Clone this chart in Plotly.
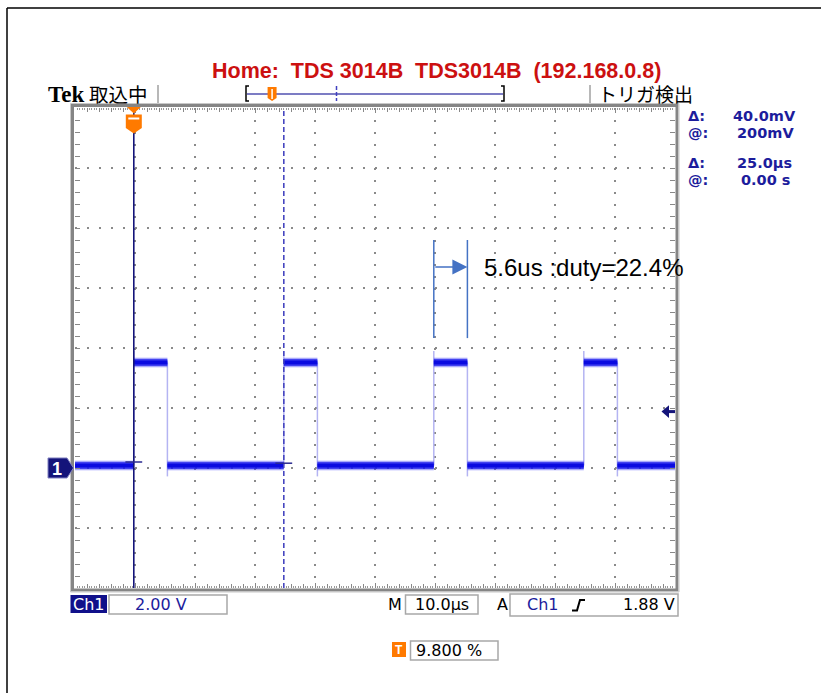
import plotly.graph_objects as go

# ---- acquisition data (Ch1, 2.00 V/div, 10.0 us/div) ----
rise_us = [0.0, 25.0, 50.0, 75.0]          # rising-edge times
fall_us = [5.6, 30.6, 55.6, 80.6]          # falling-edge times
low_v = 0.08                               # logic-low level
high_v = 3.52                              # logic-high level
rise_peak_v = 3.9                          # overshoot at rising edges
fall_dip_v = -0.28                         # undershoot at falling edges

volts_per_div = 2.0
time_per_div = 10.0
trig_pos_pct = 9.8                         # trigger position in record (%)
trig_level_v = 1.88

cursor_t_us = [0.0, 25.0]                  # vertical (time) cursors
cursor_v = [0.20, 0.16]                    # horizontal (voltage) cursors

period_us = rise_us[1] - rise_us[0]
pulse_us = fall_us[2] - rise_us[2]

# ---- screen geometry ----
W, H = 821, 693
SX0, SX1, SY0, SY1 = 75, 675, 108, 588     # graticule in pixels
t_left = -trig_pos_pct / 100 * 10 * time_per_div
t_right = t_left + 10 * time_per_div
v_bot, v_top = -2 * volts_per_div, 6 * volts_per_div


def px(x):
    return x / W


def py(y):
    return 1 - y / H


def pth(pts, close=True):
    s = "M" + " L".join(f"{px(x):.5f},{py(y):.5f}" for x, y in pts)
    return s + (" Z" if close else "")


NAVY = "#14147a"
RO_BLUE = "#1c1c9c"
ORANGE = "#ff7a00"
GRID = "#8a8a8a"
MONO = "DejaVu Sans"

fig = go.Figure()

# ---- waveform: level plateaus ----
edges = sorted([(t, "r") for t in rise_us] + [(t, "f") for t in fall_us])
lx, ly = [], []
cur_t, cur_v = t_left, low_v
for t, kind in edges:
    lx += [cur_t, t, None]
    ly += [cur_v, cur_v, None]
    cur_t = t
    cur_v = high_v if kind == "r" else low_v
lx += [cur_t, t_right]
ly += [cur_v, cur_v]

# ---- waveform: edges ----
ex, ey = [], []
for t in rise_us:
    ex += [t, t, None]
    ey += [low_v, rise_peak_v, None]
for t in fall_us:
    ex += [t, t, None]
    ey += [high_v, fall_dip_v, None]

fig.add_trace(go.Scatter(x=ex, y=ey, mode="lines", hoverinfo="skip",
                         line=dict(color="#b4b4f2", width=1.5)))
fig.add_trace(go.Scatter(x=lx, y=ly, mode="lines", hoverinfo="skip",
                         line=dict(color="rgba(90,90,255,0.30)", width=10)))
fig.add_trace(go.Scatter(x=lx, y=ly, mode="lines", hoverinfo="skip",
                         line=dict(color="rgba(20,20,235,0.75)", width=7.5)))
fig.add_trace(go.Scatter(x=lx, y=ly, mode="lines", hoverinfo="skip",
                         line=dict(color="#0a0ae0", width=4)))
# empty trace that carries the 1/5-division ruler axis
fig.add_trace(go.Scatter(x=[], y=[], xaxis="x2", yaxis="y", hoverinfo="skip"))

shapes = []
ann = []

# ---- graticule frame ----
shapes.append(dict(type="rect", xref="paper", yref="paper",
                   x0=px(72.5), x1=px(677), y0=py(105.5), y1=py(590),
                   line=dict(color="#858585", width=3), layer="above"))
shapes.append(dict(type="rect", xref="paper", yref="paper",
                   x0=px(70.5), x1=px(679), y0=py(103.5), y1=py(592),
                   line=dict(color="#c8c8c8", width=1), layer="above"))

# ---- cursors ----
shapes.append(dict(type="line", xref="x", yref="paper",
                   x0=cursor_t_us[0], x1=cursor_t_us[0], y0=py(SY1), y1=py(SY0),
                   line=dict(color=NAVY, width=1.6)))
shapes.append(dict(type="line", xref="x", yref="paper",
                   x0=cursor_t_us[1], x1=cursor_t_us[1], y0=py(SY1), y1=py(SY0),
                   line=dict(color="#4646c0", width=1.6, dash="5px,3px")))
for t, v in zip(cursor_t_us, cursor_v):
    shapes.append(dict(type="line", xref="x", yref="y",
                       x0=t - 1.4, x1=t + 1.4, y0=v, y1=v,
                       line=dict(color="#2a2a90", width=1.5)))

# ---- trigger marker on top of the graticule ----
tx = SX0 + (SX1 - SX0) * trig_pos_pct / 100
shapes.append(dict(type="path", xref="paper", yref="paper", line=dict(width=0),
                   fillcolor=ORANGE,
                   path=pth([(tx - 7, 107), (tx + 7, 107), (tx, 113.5)])))
shapes.append(dict(type="path", xref="paper", yref="paper", line=dict(width=0),
                   fillcolor=ORANGE,
                   path=pth([(tx - 8, 114.5), (tx + 8, 114.5), (tx + 8, 128),
                             (tx, 133.5), (tx - 8, 128)])))
shapes.append(dict(type="line", xref="paper", yref="paper",
                   x0=px(tx - 5.5), x1=px(tx + 5.5), y0=py(118.5), y1=py(118.5),
                   line=dict(color="white", width=2)))

# ---- ground marker "1" ----
gy = SY1 - (0 - v_bot) / (v_top - v_bot) * (SY1 - SY0)
shapes.append(dict(type="path", xref="paper", yref="paper",
                   line=dict(color="#8080c0", width=1), fillcolor=NAVY,
                   path=pth([(48, gy - 10), (67, gy - 10), (73.5, gy),
                             (67, gy + 10), (48, gy + 10)])))
ann.append(dict(x=px(57.5), y=py(gy + 0.5), text="<b>1</b>",
                font=dict(family="Liberation Sans", size=18, color="white")))

# ---- trigger level arrow ----
shapes.append(dict(type="path", xref="paper", yref="y", line=dict(width=0), fillcolor=NAVY,
                   path=f"M{px(661.5):.5f},{trig_level_v} L{px(669):.5f},{trig_level_v + 0.21} "
                        f"L{px(669):.5f},{trig_level_v - 0.21} Z"))
shapes.append(dict(type="line", xref="paper", yref="y", x0=px(668), x1=px(675),
                   y0=trig_level_v, y1=trig_level_v, line=dict(color=NAVY, width=3)))

# ---- pulse-width annotation ----
ann_col = "#4472c4"
for t in (rise_us[2], fall_us[2]):
    shapes.append(dict(type="line", xref="x", yref="y", x0=t, x1=t, y0=4.33, y1=7.6,
                       line=dict(color=ann_col, width=1.5)))
ann.append(dict(x=fall_us[2], y=6.7, xref="x", yref="y", ax=rise_us[2], ay=6.7,
                axref="x", ayref="y", showarrow=True, text="", arrowhead=2,
                arrowsize=2, arrowwidth=1.5, arrowcolor=ann_col))
ann.append(dict(x=58.0, y=6.7, xref="x", yref="y", xanchor="left", yanchor="middle",
                text=f"{pulse_us:.1f}us :duty={pulse_us / period_us * 100:.1f}%",
                font=dict(family="Liberation Sans", size=24, color="black")))

# ---- outer border ----
shapes.append(dict(type="line", xref="paper", yref="paper", x0=px(7), x1=px(830),
                   y0=py(8), y1=py(8), line=dict(color="black", width=1.5)))
shapes.append(dict(type="line", xref="paper", yref="paper", x0=px(7), x1=px(7),
                   y0=py(8), y1=py(700), line=dict(color="black", width=1.5)))

# ---- header ----
nb = "\u00a0"
ann.append(dict(x=px(436), y=py(71),
                text=f"<b>Home:{nb*2}TDS 3014B{nb*2}TDS3014B{nb*2}(192.168.0.8)</b>",
                font=dict(family="Liberation Sans", size=21.5, color="#cc1010")))
ann.append(dict(x=px(46), y=py(94), xanchor="left", text="<b>Tek</b>",
                font=dict(family="Liberation Serif", size=23, color="black")))
ann.append(dict(x=px(87), y=py(93), xanchor="left", text="取込中",
                font=dict(family="Noto Sans CJK JP", size=19.5, color="black")))
ann.append(dict(x=px(596), y=py(93), xanchor="left", text="トリガ検出",
                font=dict(family="Noto Sans CJK JP", size=19, color="black")))
for xs in (158, 590):
    shapes.append(dict(type="line", xref="paper", yref="paper", x0=px(xs), x1=px(xs),
                       y0=py(85), y1=py(103), line=dict(color="#a0a0a0", width=1.5)))

# record-view bar
shapes.append(dict(type="line", xref="paper", yref="paper", x0=px(247), x1=px(503),
                   y0=py(94), y1=py(94), line=dict(color="#5050b0", width=1.5)))
shapes.append(dict(type="path", xref="paper", yref="paper", line=dict(color="black", width=1.5),
                   path=pth([(249, 86), (246, 86), (246, 101), (249, 101)], close=False)))
shapes.append(dict(type="path", xref="paper", yref="paper", line=dict(color="black", width=1.5),
                   path=pth([(501, 86), (504, 86), (504, 101), (501, 101)], close=False)))
shapes.append(dict(type="line", xref="paper", yref="paper", x0=px(336.5), x1=px(336.5),
                   y0=py(86), y1=py(101), line=dict(color="#4040c0", width=1.5, dash="4px,2px")))
rec_x = 247 + (503 - 247) * trig_pos_pct / 100
shapes.append(dict(type="path", xref="paper", yref="paper", line=dict(width=0), fillcolor=ORANGE,
                   path=pth([(rec_x - 4.5, 87), (rec_x + 4.5, 87), (rec_x + 4.5, 98),
                             (rec_x, 101), (rec_x - 4.5, 98)])))
shapes.append(dict(type="line", xref="paper", yref="paper", x0=px(rec_x), x1=px(rec_x),
                   y0=py(89), y1=py(99), line=dict(color="white", width=1.5)))

# ---- cursor readouts ----
dv_mv = (cursor_v[0] - cursor_v[1]) * 1000
dt_us = cursor_t_us[1] - cursor_t_us[0]
readouts = [
    (116, "Δ:", f"{dv_mv:.1f}mV", 731),
    (133.5, "@:", f"{cursor_v[0] * 1000:.0f}mV", 735),
    (162.5, "Δ:", f"{dt_us:.1f}µs", 735),
    (180, "@:", f"{cursor_t_us[0]:.2f} s", 739),
]
for y, lab, val, xv in readouts:
    ann.append(dict(x=px(686), y=py(y), xanchor="left", text=f"<b>{lab}</b>",
                    font=dict(family=MONO, size=14.5, color=RO_BLUE)))
    ann.append(dict(x=px(xv), y=py(y), xanchor="left", text=f"<b>{val}</b>",
                    font=dict(family=MONO, size=14.5, color=RO_BLUE)))

# ---- bottom status line ----
shapes.append(dict(type="rect", xref="paper", yref="paper", x0=px(70.5), x1=px(107),
                   y0=py(595), y1=py(613), line=dict(width=0), fillcolor="#10108a"))
ann.append(dict(x=px(88.5), y=py(604), text="Ch1",
                font=dict(family=MONO, size=16, color="white")))
for x0, x1, y0, y1 in [(109, 227, 595, 614), (405.5, 478, 595, 614),
                       (510, 678, 594, 616), (410.5, 498, 641, 660)]:
    shapes.append(dict(type="rect", xref="paper", yref="paper", x0=px(x0), x1=px(x1),
                       y0=py(y0), y1=py(y1), line=dict(color="#a8a8a8", width=1.5)))
ann.append(dict(x=px(161), y=py(604.5), text=f"{volts_per_div:.2f} V",
                font=dict(family=MONO, size=16, color=RO_BLUE)))
ann.append(dict(x=px(395), y=py(604.5), text="M",
                font=dict(family=MONO, size=16, color="black")))
ann.append(dict(x=px(441.5), y=py(604.5), text=f"{time_per_div:.1f}µs",
                font=dict(family=MONO, size=16, color="black")))
ann.append(dict(x=px(502.5), y=py(604.5), text="A",
                font=dict(family=MONO, size=16, color="black")))
ann.append(dict(x=px(543), y=py(604.5), text="Ch1",
                font=dict(family=MONO, size=16, color=RO_BLUE)))
shapes.append(dict(type="path", xref="paper", yref="paper", line=dict(color="black", width=2),
                   path=pth([(572, 610.5), (577, 610.5), (580, 600), (585, 600)], close=False)))
ann.append(dict(x=px(677), y=py(604.5), xanchor="right", text=f"{trig_level_v:.2f} V",
                font=dict(family=MONO, size=16, color="black")))
shapes.append(dict(type="rect", xref="paper", yref="paper", x0=px(392), x1=px(406),
                   y0=py(642), y1=py(657), line=dict(width=0), fillcolor=ORANGE))
ann.append(dict(x=px(399), y=py(649.5), text="<b>T</b>",
                font=dict(family="Liberation Sans", size=12, color="white")))
ann.append(dict(x=px(414), y=py(650.5), xanchor="left", text=f"{trig_pos_pct:.3f} %",
                font=dict(family=MONO, size=16, color="black")))

for a in ann:
    a.setdefault("xref", "paper")
    a.setdefault("yref", "paper")
    a.setdefault("showarrow", False)
    a.setdefault("xanchor", "center")
    a.setdefault("yanchor", "middle")

axis_common = dict(showticklabels=False, zeroline=False, showline=False,
                   showgrid=True, gridcolor=GRID, gridwidth=2, griddash="2px,10px",
                   ticks="inside", ticklen=5, tickcolor="#888", tickwidth=1,
                   mirror="allticks", fixedrange=True)

fig.update_layout(
    width=W, height=H,
    margin=dict(l=0, r=0, t=0, b=0),
    paper_bgcolor="white", plot_bgcolor="white",
    showlegend=False,
    xaxis=dict(domain=[px(SX0), px(SX1)], range=[t_left, t_right],
               tick0=t_left, dtick=time_per_div,
               minor=dict(tick0=t_left, dtick=time_per_div / 25, ticks="inside",
                          ticklen=2, tickcolor="#999", showgrid=False),
               **axis_common),
    xaxis2=dict(overlaying="x", anchor="y", range=[t_left, t_right],
                tick0=t_left, dtick=time_per_div / 5, showgrid=False,
                showticklabels=False, zeroline=False, showline=False,
                ticks="inside", ticklen=4, tickcolor="#888", mirror="allticks",
                fixedrange=True, side="bottom"),
    yaxis=dict(domain=[py(SY1), py(SY0)], range=[v_bot, v_top],
               tick0=v_bot, dtick=volts_per_div,
               minor=dict(tick0=v_bot, dtick=volts_per_div / 5, ticks="inside",
                          ticklen=3, tickcolor="#888", showgrid=False),
               **axis_common),
    shapes=shapes,
    annotations=ann,
)

fig.write_html("out.html")
